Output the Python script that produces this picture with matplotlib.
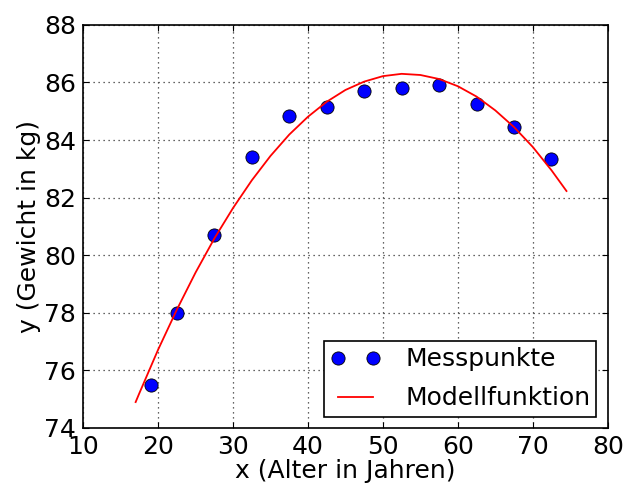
import matplotlib
matplotlib.use('Agg')
import matplotlib.pyplot as plt

# Messpunkte (Alter, Gewicht)
alter = [19, 22.5, 27.5, 32.5, 37.5, 42.5, 47.5, 52.5, 57.5, 62.5, 67.5, 72.5]
gewicht = [75.5, 78.0, 80.7, 83.4, 84.85, 85.15, 85.7, 85.8, 85.9, 85.25, 84.45, 83.35]

# Modellfunktion
x_modell = [17, 17.5, 20, 22.5, 25, 27.5, 30, 32.5, 35, 37.5, 40, 42.5, 45, 47.5,
            50, 52.5, 55, 57.5, 60, 62.5, 65, 67.5, 70, 72.5, 74.5]
y_modell = [74.9, 75.21, 76.72, 78.11, 79.4, 80.58, 81.64, 82.6, 83.45, 84.19, 84.81,
            85.33, 85.74, 86.03, 86.22, 86.3, 86.26, 86.12, 85.87, 85.51, 85.03,
            84.45, 83.76, 82.95, 82.23]

plt.rcParams['font.family'] = 'DejaVu Sans'
plt.rcParams['font.size'] = 18

fig = plt.figure(figsize=(6.35, 4.88), dpi=100)
ax = fig.add_axes([0.131, 0.123, 0.826, 0.826])

ax.plot(alter, gewicht, 'o', color='blue', markeredgecolor='black', markeredgewidth=0.6,
        markersize=9.5, label='Messpunkte')
ax.plot(x_modell, y_modell, '-', color='red', linewidth=1.3, label='Modellfunktion')

ax.set_xlim(10, 80)
ax.set_ylim(74, 88)
ax.set_xticks(range(10, 81, 10))
ax.set_yticks(range(74, 89, 2))
ax.grid(True, color='#333333', linestyle=(0, (1, 3)), linewidth=0.9)
ax.tick_params(direction='in', top=True, right=True, length=4, labelsize=18, pad=5)
for s in ax.spines.values():
    s.set_linewidth(1.2)

ax.set_xlabel('x (Alter in Jahren)', fontsize=18, labelpad=0)
ax.set_ylabel('y (Gewicht in kg)', fontsize=18, labelpad=2)

leg = ax.legend(loc='lower right', numpoints=2, fancybox=False, framealpha=1,
                edgecolor='black', fontsize=18, borderaxespad=0.45, handlelength=2.0,
                borderpad=0.25, labelspacing=0.6, handletextpad=1.0)
leg.get_frame().set_linewidth(1.2)

fig.savefig('out.png', dpi=100)
